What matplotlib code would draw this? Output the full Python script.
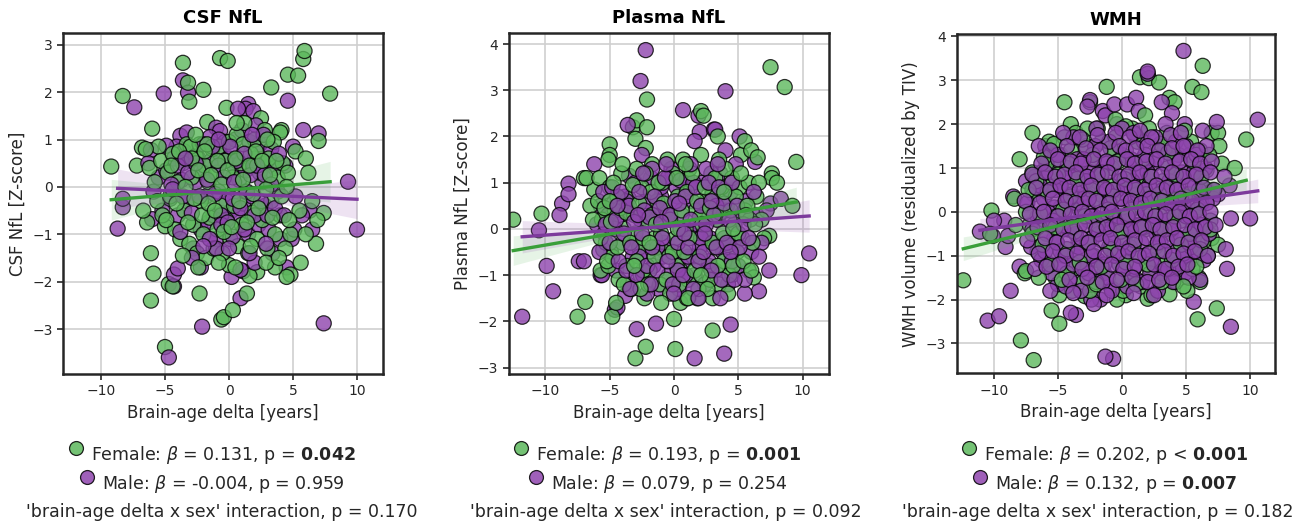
"""
plot.py
-------
Brain-age delta vs. CSF NfL, plasma NfL and WMH volume, split by sex.
"""

import numpy as np
import matplotlib
matplotlib.use("Agg")
import matplotlib.pyplot as plt
from matplotlib.lines import Line2D

# ---------------------------------------------------------------- data ----
titles = ["CSF NfL", "Plasma NfL", "WMH"]
ylabels = ["CSF NfL [Z-score]", "Plasma NfL [Z-score]",
           "WMH volume (residualized by TIV)"]
xlabel = "Brain-age delta [years]"
yticks = [[-3, -2, -1, 0, 1, 2, 3], [-3, -2, -1, 0, 1, 2, 3, 4],
          [-3, -2, -1, 0, 1, 2, 3, 4]]
xticks = [-10, -5, 0, 5, 10]

csf_female = [
    (-9.2, 0.43), (-8.3, 1.92), (-7.2, 0.45), (-6.8, 0.83), (-6.0, 1.23),
    (-6.1, -1.4), (-5.9, -1.83), (-6.1, -2.4), (-5.0, -3.38), (-4.7, -2.05),
    (-4.4, -2.1), (-3.6, 2.62), (-3.2, 2.2), (-3.1, 1.8), (-2.0, 2.05),
    (-2.3, -2.25), (-1.7, 1.37), (-0.7, 2.72), (-0.1, 2.66), (-0.2, 1.67),
    (-0.6, -2.8), (-0.4, -2.75), (0.3, -2.6), (1.4, -2.25), (3.3, 2.1),
    (4.6, 2.37), (5.4, 2.35), (5.8, 2.7), (5.9, 2.87), (7.9, 1.97),
    (7.0, 0.97), (7.4, -0.55), (6.9, -0.7), (6.8, -1.2), (4.8, -1.85),
    (4.5, -1.9), (3.6, -1.7), (2.2, -1.8), (1.6, -1.88), (0.0, -1.65),
    (4.1, 1.2), (4.0, 1.15), (2.5, 1.45), (-5.0, -0.83), (-6.4, -0.75),
    (-6.7, -0.5), (-5.5, 0.85),
    (-6.5, 0.8), (-6.2, 0.4), (-5.8, 0.1), (-5.6, -0.3), (-5.3, 0.55),
    (-5.2, -0.6), (-4.8, 0.3), (-4.6, -0.2), (-4.4, 0.7), (-4.2, -0.9),
    (-4.0, 0.1), (-3.8, -1.1), (-3.6, 0.5), (-3.5, -0.5), (-3.3, 0.9),
    (-3.1, -1.2), (-2.9, 0.2), (-2.8, -0.8), (-2.6, 0.65), (-2.5, -1.4),
    (-2.3, 0.9), (-2.2, -0.3), (-2.0, -1.0), (-1.9, 0.45), (-1.8, -1.5),
    (-1.6, 0.1), (-1.5, -0.65), (-1.3, 0.8), (-1.2, -1.3), (-1.0, 0.3),
    (-0.9, -0.9), (-0.8, 0.85), (-0.6, -0.4), (-0.5, -1.4), (-0.3, 0.55),
    (-0.2, -0.7), (0.0, 0.95), (0.1, -1.1), (0.3, 0.2), (0.4, -0.4),
    (0.6, 1.1), (0.7, -1.25), (0.9, 0.5), (1.0, -0.8), (1.2, 1.35),
    (1.3, -0.1), (1.5, -1.4), (1.7, 0.7), (1.8, -0.55), (2.0, 1.0),
    (2.2, -1.1), (2.4, 0.3), (2.6, -0.7), (2.8, 1.2), (3.0, -1.3),
    (3.1, 0.6), (3.3, -0.3), (3.5, 0.95), (3.6, -1.0), (3.8, 0.2),
    (4.0, -0.6), (4.2, 0.5), (4.4, -1.3), (4.6, 0.3), (4.8, -1.0),
    (5.2, 0.75), (5.5, -0.5), (6.0, 0.6), (6.2, 0.3), (6.5, -0.3),
    (5.6, -1.6), (2.9, -1.6), (-3.0, 0.85), (-1.7, 0.9), (1.1, 0.9),
    (-4.9, -0.7), (-2.4, -1.7), (0.5, -1.7), (3.9, -1.5), (6.0, -1.0),
    (-4.5, 0.45), (-4.1, -0.35), (-3.9, 0.75), (-3.4, 0.0), (-3.2, -0.75),
    (-2.9, 0.6), (-2.7, -0.25), (-2.4, 0.35), (-2.1, -0.6), (-1.9, 0.75),
    (-1.6, -0.35), (-1.4, 0.25), (-1.1, -0.5), (-0.9, 0.55), (-0.6, 0.05),
    (-0.4, -0.95), (-0.1, 0.35), (0.2, -0.85), (0.5, 0.6), (0.8, -0.3),
    (1.1, 0.15), (1.4, -0.75), (1.6, 0.45), (1.9, -0.15), (2.1, 0.75),
    (2.3, -0.45), (2.6, 0.55), (2.9, -0.05), (3.2, 0.25), (3.4, -0.65),
    (3.7, 0.55), (4.1, -0.2), (4.5, 0.0), (-0.8, -1.6), (1.7, -1.25),
    (-3.6, -1.45), (0.6, 1.35), (-2.6, 1.1), (3.0, 1.0), (4.7, -0.7),
]
csf_male = [
    (-7.4, 1.68), (-5.1, 1.97), (-3.6, 2.25), (-3.2, 1.99), (-8.7, -0.88),
    (-8.3, -0.43), (-8.3, -0.25), (-6.0, -0.68), (-4.7, -3.6), (-4.3, -2.1),
    (-4.3, -1.85), (-4.0, -1.72), (-2.2, -1.7), (-2.1, -2.95), (0.2, -1.9),
    (0.9, -2.35), (1.1, -1.78), (4.6, 1.82), (5.8, 1.2), (7.0, 1.13),
    (9.3, 0.11), (10.0, -0.9), (7.4, -2.88), (5.0, 0.85), (4.4, 0.45),
    (6.5, -0.9), (6.3, -0.5), (5.7, -0.6), (4.5, -1.7), (4.9, -1.1),
    (5.1, -0.9), (5.2, -0.2), (1.5, 1.75), (1.3, 1.65), (0.7, 1.65),
    (1.9, 1.6), (-1.0, 1.25), (-3.8, 1.08), (-3.3, 1.15), (-0.7, 1.18),
    (-4.1, 0.85), (-4.9, 0.87), (-6.1, 0.78),
    (-6.3, 0.5), (-5.9, -0.1), (-5.5, 0.2), (-5.2, -0.5), (-4.9, 0.35),
    (-4.6, -0.25), (-4.3, 0.6), (-4.0, -0.6), (-3.7, 0.15), (-3.5, 0.75),
    (-3.3, -0.3), (-3.0, 0.55), (-2.8, -1.3), (-2.6, 0.1), (-2.4, 0.6),
    (-2.2, -0.9), (-2.0, 0.3), (-1.8, -0.2), (-1.6, -0.75), (-1.4, 0.55),
    (-1.2, -0.6), (-1.0, -1.1), (-0.8, -0.1), (-0.7, 0.7), (-0.5, -0.55),
    (-0.3, 0.95), (-0.2, -0.3), (0.0, 0.6), (0.2, -0.5), (0.4, 0.45),
    (0.5, 1.0), (0.7, -0.6), (0.8, 0.15), (1.0, 1.2), (1.1, -0.35),
    (1.3, 0.35), (1.5, -1.0), (1.6, 0.95), (1.8, -0.2), (2.0, 0.6),
    (2.1, 1.3), (2.3, -0.8), (2.4, 0.9), (2.6, 0.1), (2.8, -0.4),
    (2.9, 0.5), (3.1, -0.9), (3.3, 0.8), (3.4, -1.4), (3.6, 0.4),
    (3.8, -0.1), (4.0, -1.1), (-1.0, -1.3), (0.3, -1.05), (2.0, -1.6),
    (-3.8, -0.95), (-2.9, -1.5), (1.9, 0.45), (-0.6, -0.6), (1.2, -0.9),
    (2.7, 1.1), (-4.5, 0.05), (-1.5, 1.05), (0.9, -1.75),
    (-4.4, -0.05), (-4.0, 0.45), (-3.6, -0.2), (-3.2, 0.3), (-2.9, -0.55),
    (-2.6, 0.5), (-2.3, -0.2), (-2.0, 0.9), (-1.7, 0.15), (-1.5, -1.1),
    (-1.3, 0.85), (-1.1, -0.15), (-0.8, 0.45), (-0.6, -0.8), (-0.4, 0.2),
    (-0.1, -0.75), (0.1, 0.85), (0.3, -0.25), (0.6, 0.55), (0.9, -0.45),
    (1.2, 0.7), (1.4, -0.1), (1.7, 0.25), (2.0, -0.6), (2.2, 0.45),
    (2.5, -0.3), (2.8, 0.25), (3.0, -0.6), (3.3, 0.05), (3.6, -0.45),
    (3.9, 0.7), (4.3, -0.6), (-2.0, -1.25), (0.0, -1.3), (1.6, -1.4),
    (2.9, -1.2), (-0.8, 1.0), (1.8, 1.1), (-3.4, 0.6), (0.4, 0.1),
]

plasma_female = [
    (-12.5, 0.2), (-10.3, 0.33), (-7.5, -1.9), (-6.9, -1.58), (-7.0, 1.1),
    (-5.0, 1.83), (-5.0, 1.6), (-5.1, 1.5), (-3.2, 2.2), (-2.9, 2.35),
    (-2.1, 2.8), (-2.1, 2.2), (-3.0, 1.95), (-2.2, 1.75), (-3.0, -2.8),
    (-2.2, -2.55), (-2.6, -1.0), (0.0, -1.95), (0.1, -2.6), (0.5, -1.6),
    (1.8, -1.5), (3.0, -1.5), (3.0, -2.2), (2.1, 2.55), (2.3, 2.45),
    (3.4, 2.0), (5.2, 1.6), (5.5, 1.9), (6.0, 1.7), (6.5, 1.55),
    (7.5, 3.5), (8.6, 3.07), (9.5, 1.45), (7.6, 1.2), (7.6, 1.1),
    (8.0, 1.0), (9.2, 0.5), (7.4, -0.15), (7.0, -0.2), (5.8, -0.9),
    (6.2, -1.05), (4.5, -1.0), (1.0, -1.5), (-4.8, -1.9), (-4.5, -1.6),
    (-5.7, -0.9), (-6.2, 0.85), (-6.8, 1.1), (-6.5, 0.5), (-5.8, 1.1),
    (-5.5, -0.45), (-5.1, -0.8),
    (-5.9, 0.6), (-5.6, 0.2), (-5.3, -0.3), (-5.0, 0.9), (-4.8, -0.6),
    (-4.6, 0.4), (-4.3, -1.1), (-4.1, 1.2), (-3.9, 0.0), (-3.7, -0.8),
    (-3.5, 0.65), (-3.3, -1.3), (-3.1, 0.3), (-2.9, 1.3), (-2.7, -0.4),
    (-2.5, 0.9), (-2.3, -1.5), (-2.1, 0.2), (-1.9, -0.9), (-1.7, 1.4),
    (-1.5, -0.2), (-1.3, 0.6), (-1.1, -1.2), (-0.9, 1.0), (-0.7, -0.5),
    (-0.5, 0.3), (-0.3, -1.4), (-0.1, 1.2), (0.1, -0.2), (0.3, 0.7),
    (0.5, -0.9), (0.7, 1.5), (0.9, 0.0), (1.1, -1.1), (1.3, 0.9),
    (1.5, -0.6), (1.7, 0.4), (1.9, -1.3), (2.1, 1.6), (2.3, -0.1),
    (2.5, 0.6), (2.7, -0.8), (2.9, 1.2), (3.1, -0.4), (3.3, 0.2),
    (3.5, -1.2), (3.7, 0.9), (3.9, -0.7), (4.1, 0.5), (4.3, -1.0),
    (4.5, 1.1), (4.7, 0.1), (4.9, -0.5), (5.1, 0.9), (5.3, -0.2),
    (5.5, 0.4), (5.8, 1.0), (6.1, -0.3), (6.4, 0.7), (6.8, 0.2),
    (2.8, -1.1), (0.2, -0.8), (-1.8, 0.8), (-3.0, -0.1), (1.2, 1.3),
    (3.0, 0.75), (-0.4, -0.6), (4.2, -0.35), (-4.4, 0.7), (-2.4, -0.9),
    (2.0, 0.25), (-1.0, -1.6), (5.9, 0.2), (-6.3, 0.2),
    (-5.7, -0.2), (-5.4, 0.45), (-5.2, -0.7), (-4.9, 0.15), (-4.7, 1.0),
    (-4.4, -0.4), (-4.2, 0.45), (-3.9, -1.2), (-3.7, 0.35), (-3.4, -0.3),
    (-3.2, 0.95), (-2.9, -0.7), (-2.7, 0.55), (-2.4, -0.2), (-2.2, 1.2),
    (-2.0, -1.2), (-1.7, 0.3), (-1.5, -0.6), (-1.2, 1.0), (-1.0, -0.1),
    (-0.8, 0.55), (-0.6, -1.1), (-0.3, 0.2), (-0.1, -0.5), (0.2, 1.1),
    (0.4, -1.2), (0.6, 0.4), (0.8, -0.5), (1.0, 0.8), (1.2, -0.2),
    (1.4, 1.2), (1.6, -0.9), (1.8, 0.6), (2.0, -0.6), (2.2, 0.1),
    (2.4, 0.9), (2.6, -1.3), (2.8, 0.45), (3.0, -0.3), (3.2, 1.1),
    (3.4, -0.8), (3.6, 0.35), (3.8, -0.1), (4.0, 1.3), (4.2, -1.4),
    (4.4, 0.4), (4.6, -0.8), (4.8, 0.7), (5.0, -0.1), (5.2, 1.2),
    (5.4, -0.7), (5.7, 0.5), (6.0, -0.9), (6.3, 0.1), (6.6, 1.0),
    (-0.5, 1.5), (1.1, -1.5), (-2.6, -1.3), (3.5, 1.5), (-4.0, 1.4),
    (0.3, 0.0), (-1.4, 0.1), (2.1, -1.0), (3.9, 0.8), (-3.1, -0.8),
    (0.9, 1.4), (-1.9, -0.3), (4.6, 0.0), (5.6, 0.3), (-5.0, 0.6),
]
plasma_male = [
    (-11.8, -1.9), (-9.4, -1.35), (-9.9, -0.8), (-10.5, -0.03), (-8.7, 0.55),
    (-8.2, 0.98), (-8.2, 0.75), (-8.9, 0.3), (-7.4, -0.7), (-7.0, -0.7),
    (-6.2, 1.4), (-2.2, 3.87), (-2.6, 3.2), (4.0, 2.98), (0.7, 2.57),
    (1.9, 2.45), (2.0, 2.1), (3.1, 2.15), (3.2, 2.15), (5.1, 2.0),
    (4.0, 1.7), (6.3, 1.45), (7.5, 0.55), (8.3, 0.65), (10.5, -0.53),
    (9.9, -1.0), (7.4, -0.9), (6.6, -1.35), (5.5, -1.4), (4.4, -2.07),
    (3.9, -2.7), (1.6, -2.8), (-1.4, -2.05), (-2.9, -2.17), (-4.6, -1.75),
    (-4.4, -1.7), (-3.8, -1.45), (-5.7, -1.0), (-5.6, -1.0), (-2.5, 1.6),
    (-3.6, 2.25), (-3.5, 1.15), (-1.0, 0.7), (1.6, 1.9),
    (-6.0, 0.1), (-5.7, 0.5), (-5.4, -0.1), (-5.1, 0.3), (-4.9, -0.5),
    (-4.7, 0.55), (-4.5, -0.9), (-4.2, 0.3), (-4.0, -0.3), (-3.8, 0.7),
    (-3.6, -1.2), (-3.4, 0.35), (-3.2, -0.6), (-3.0, 1.0), (-2.8, -0.3),
    (-2.6, 0.2), (-2.4, -1.0), (-2.2, 0.6), (-2.0, -0.5), (-1.8, 1.1),
    (-1.6, -0.8), (-1.4, 0.3), (-1.2, -1.3), (-1.0, 0.9), (-0.8, -0.3),
    (-0.6, 0.4), (-0.4, -1.0), (-0.2, 1.3), (0.0, -0.5), (0.2, 0.9),
    (0.4, -1.3), (0.6, 0.3), (0.8, -0.7), (1.0, 1.1), (1.2, -0.1),
    (1.4, 0.6), (1.6, -1.0), (1.8, 0.1), (2.0, -0.4), (2.2, 1.0),
    (2.4, -1.2), (2.6, 0.4), (2.8, -0.2), (3.0, 0.8), (3.2, -0.9),
    (3.4, 0.2), (3.6, 1.2), (3.8, -0.5), (4.0, 0.4), (4.2, -1.2),
    (4.4, 0.8), (4.6, -0.3), (4.8, 1.4), (5.0, -0.8), (5.2, 0.3),
    (5.6, 0.6), (6.0, -0.5), (6.4, 0.3), (6.8, -0.3), (7.2, 0.4),
    (-1.7, 1.3), (-0.5, 1.1), (0.5, 1.05), (1.5, 1.0), (2.5, 1.3),
    (-2.7, -0.6), (-0.9, -0.6), (0.9, -1.0), (2.7, -0.7), (3.9, -0.2),
    (-3.7, 0.6), (-1.3, -0.4), (1.1, -0.6), (3.3, 0.5), (-4.6, 0.0),
    (4.5, -0.7), (-2.1, -1.4), (0.3, -0.9), (2.1, -0.2), (5.5, -1.1),
    (-5.8, -0.5), (-5.5, 0.8), (-5.3, 0.1), (-5.0, -0.3), (-4.8, 0.9),
    (-4.5, 0.2), (-4.3, -0.7), (-4.1, 0.8), (-3.9, -0.1), (-3.7, -0.9),
    (-3.5, 0.5), (-3.3, -0.4), (-3.1, 0.15), (-2.9, -1.0), (-2.7, 0.8),
    (-2.5, -0.1), (-2.3, 0.4), (-2.1, -0.8), (-1.9, 0.25), (-1.7, -0.4),
    (-1.5, 0.7), (-1.3, -0.9), (-1.1, 0.45), (-0.9, -0.2), (-0.7, 1.1),
    (-0.5, -0.7), (-0.3, 0.3), (-0.1, -1.2), (0.1, 0.6), (0.3, -0.3),
    (0.5, 0.0), (0.7, -1.0), (0.9, 0.7), (1.1, -0.4), (1.3, 0.2),
    (1.5, -1.3), (1.7, 0.9), (1.9, -0.7), (2.1, 0.5), (2.3, -0.5),
    (2.5, 0.1), (2.7, 1.0), (2.9, -0.9), (3.1, 0.3), (3.3, -0.4),
    (3.5, 0.9), (3.7, -1.1), (3.9, 0.55), (4.1, -0.3), (4.3, 0.2),
    (4.5, 1.0), (4.7, -1.1), (4.9, 0.5), (5.1, -0.4), (5.4, 0.1),
    (5.8, -0.2), (6.2, 0.8), (6.6, -0.6), (-1.8, -1.2), (0.0, -1.4),
    (1.9, -1.5), (3.6, -1.5), (-3.4, -1.3), (-0.6, 1.4), (1.3, 1.4),
    (3.4, 1.4), (-2.4, 1.2), (0.4, 0.55), (2.4, -0.1), (-1.0, 0.15),
    (4.4, -0.5), (-4.4, 0.5), (-2.8, 0.3), (0.8, -0.1), (2.9, 0.6),
]

wmh_female = [
    (-12.4, -1.56), (-10.2, 0.03), (-8.0, 1.2), (-7.0, 1.8), (-7.9, -2.93),
    (-6.9, -3.38), (-5.5, -2.25), (-4.9, -2.55), (-4.5, 2.5), (-4.0, 2.0),
    (-3.6, 1.8), (-2.5, 2.5), (-1.2, 2.85), (1.4, 3.07), (2.1, 3.05),
    (2.9, 2.95), (3.7, 2.6), (4.1, 2.5), (5.5, 2.85), (6.3, 3.33),
    (6.2, 2.73), (7.0, 1.8), (7.5, 1.8), (9.7, 1.65), (7.6, 1.5),
    (7.8, 1.1), (8.8, 1.0), (6.6, 0.95), (7.0, -0.6), (7.5, -0.75),
    (5.6, -0.6), (6.0, -1.5), (6.1, -1.6), (5.9, -2.45), (7.4, -2.2),
    (3.7, -1.88), (2.0, -1.98), (0.3, -1.9), (-0.4, -2.0), (-2.9, -1.92),
    (-4.9, -1.9), (-5.2, -1.5), (-7.6, -1.4), (-7.5, -1.35), (-5.7, 1.6),
    (-5.2, 1.3), (-8.3, -0.3), (-8.4, 0.3), (-10.3, -0.5), (1.8, 2.2),
    (-0.5, 2.1), (-2.8, 1.5), (0.8, 1.9),
    (-7.2, -0.3), (-6.9, 0.4), (-6.6, -0.9), (-6.3, 0.9), (-6.0, -0.2),
    (-5.8, -1.2), (-5.5, 0.6), (-5.3, -0.6), (-5.0, 1.0), (-4.8, 0.1),
    (-4.6, -1.0), (-4.4, 0.5), (-4.2, -0.4), (-4.0, 1.4), (-3.8, -1.3),
    (-3.6, 0.2), (-3.4, -0.7), (-3.2, 0.9), (-3.0, -1.6), (-2.8, 0.4),
    (-2.6, -0.2), (-2.4, 1.2), (-2.2, -1.0), (-2.0, 0.7), (-1.8, -0.5),
    (-1.6, 1.6), (-1.4, -1.4), (-1.2, 0.2), (-1.0, -0.8), (-0.8, 1.0),
    (-0.6, -0.3), (-0.4, 0.5), (-0.2, -1.2), (0.0, 1.3), (0.2, -0.6),
    (0.4, 0.8), (0.6, -1.5), (0.8, 0.3), (1.0, -0.3), (1.2, 1.6),
    (1.4, -1.0), (1.6, 0.6), (1.8, -0.4), (2.0, 1.1), (2.2, -1.3),
    (2.4, 0.2), (2.6, -0.8), (2.8, 1.5), (3.0, -0.1), (3.2, 0.7),
    (3.4, -1.2), (3.6, 1.0), (3.8, -0.5), (4.0, 0.3), (4.2, -1.6),
    (4.4, 1.3), (4.6, -0.2), (4.8, 0.8), (5.0, -0.9), (5.2, 0.4),
    (5.4, 1.6), (5.6, -0.3), (5.8, 0.9), (6.0, 0.1), (6.3, -0.7),
    (6.6, 0.5), (6.9, -0.2), (-5.9, 1.1), (-3.9, -1.8), (-1.9, 1.9),
    (0.1, -1.8), (2.1, 1.9), (4.1, -1.3), (6.1, 1.4), (-6.5, -1.5),
    (-4.5, 1.7), (-2.5, -1.8), (-0.5, 1.7), (1.5, -1.7), (3.5, 1.8),
    (5.5, -1.3), (-7.0, 0.9), (-3.3, 0.05), (-1.3, -0.15), (0.7, 0.05),
    (2.7, -0.35), (4.7, 0.0), (-5.1, -0.1), (-2.1, 0.3), (1.9, 0.4),
    (3.9, 0.6), (-0.9, 0.6), (-4.3, -1.4), (2.3, -1.9), (6.7, -1.0),
    (-7.5, 0.0), (5.1, -1.8), (0.3, 1.95), (-2.7, 1.9),
    (-5.3, 1.55), (-3.1, 1.65), (-0.9, 1.45), (1.0, 1.75), (3.0, 1.55),
    (4.9, 1.85), (-6.1, 1.25), (-4.2, 1.1), (-2.3, 1.3), (-0.3, 1.15),
    (1.6, 1.2), (3.6, 1.35), (5.6, 1.15), (6.8, 1.3), (-6.7, 0.7),
    (-5.0, 0.85), (-3.5, 0.75), (-1.6, 0.85), (0.2, 0.75), (2.2, 0.8),
    (4.2, 0.85), (6.2, 0.8), (-7.3, 0.5), (-5.8, 0.45), (-4.0, 0.35),
    (-2.4, 0.5), (-0.7, 0.35), (1.1, 0.5), (2.9, 0.4), (4.9, 0.35),
    (7.1, 0.5), (-6.4, -0.05), (-4.6, 0.05), (-2.9, -0.1), (-1.1, 0.05),
    (0.5, -0.05), (2.3, 0.0), (4.1, -0.1), (5.9, 0.05), (-7.0, -0.5),
    (-5.2, -0.35), (-3.7, -0.45), (-1.9, -0.3), (-0.1, -0.45), (1.7, -0.35),
    (3.3, -0.4), (5.3, -0.5), (6.9, -0.4), (-6.2, -0.75), (-4.3, -0.85),
    (-2.7, -0.7), (-0.9, -0.85), (0.9, -0.75), (2.8, -0.9), (4.6, -0.75),
    (6.1, -0.85), (-5.6, -1.2), (-3.3, -1.15), (-1.6, -1.25), (0.3, -1.15),
    (2.0, -1.2), (3.9, -1.1), (5.8, -1.25), (-4.7, -1.55), (-2.0, -1.65),
    (-0.1, -1.55), (1.1, -1.65), (3.1, -1.6), (4.8, -1.7),
]
wmh_male = [
    (-11.1, -0.45), (-10.5, -2.48), (-9.6, -2.38), (-8.7, -1.8), (-9.1, -0.8),
    (-8.9, -0.55), (-8.5, 0.35), (-9.2, -0.2), (-10.0, -0.2), (-10.1, -0.55),
    (-8.0, -1.25), (-7.5, 0.7), (-7.0, 0.5), (-6.2, 0.5), (-6.0, 1.5),
    (-5.9, 1.2), (-4.8, 1.3), (-3.6, -2.35), (-4.0, -2.3), (-2.5, 2.55),
    (-2.7, 2.4), (-1.5, 2.3), (-1.3, 2.2), (-0.4, 2.0), (-0.6, 2.45),
    (0.4, 2.45), (1.1, 2.6), (1.3, 2.3), (2.0, 3.15), (2.0, 3.2),
    (3.1, 2.5), (3.9, 2.25), (4.8, 3.67), (4.9, 2.0), (6.3, 1.85),
    (7.4, 2.05), (10.6, 2.1), (10.0, -0.15), (8.5, -0.15), (8.1, -0.85),
    (8.2, -1.3), (8.5, -2.62), (5.6, -2.05), (6.1, -1.55), (4.9, -1.4),
    (5.4, -1.1), (3.3, -1.45), (1.0, -1.5), (-0.7, -3.35), (-1.3, -3.3),
    (-1.7, -2.0), (-2.4, -2.0), (-2.2, -2.1), (-0.8, -1.75), (-5.0, -1.65),
    (-3.5, -1.55), (8.4, 0.6), (8.0, 0.8), (7.5, 0.4),
    (-7.4, 0.2), (-7.1, -0.8), (-6.8, 0.8), (-6.6, -0.1), (-6.3, -1.1),
    (-6.1, 0.3), (-5.9, -0.5), (-5.7, 0.9), (-5.5, -1.4), (-5.3, 0.1),
    (-5.1, -0.7), (-4.9, 0.6), (-4.7, -1.2), (-4.5, 0.0), (-4.3, 1.0),
    (-4.1, -0.4), (-3.9, 0.4), (-3.7, -1.0), (-3.5, 1.2), (-3.3, -0.3),
    (-3.1, 0.6), (-2.9, -1.3), (-2.7, 0.1), (-2.5, 0.9), (-2.3, -0.6),
    (-2.1, 1.5), (-1.9, -1.1), (-1.7, 0.4), (-1.5, -0.2), (-1.3, 1.1),
    (-1.1, -1.5), (-0.9, 0.2), (-0.7, -0.7), (-0.5, 1.4), (-0.3, -0.1),
    (-0.1, 0.7), (0.1, -1.0), (0.3, 0.4), (0.5, -0.4), (0.7, 1.2),
    (0.9, -1.3), (1.1, 0.1), (1.3, 0.9), (1.5, -0.7), (1.7, 1.6),
    (1.9, -0.2), (2.1, 0.6), (2.3, -1.1), (2.5, 1.1), (2.7, -0.5),
    (2.9, 0.3), (3.1, -1.4), (3.3, 1.4), (3.5, -0.2), (3.7, 0.7),
    (3.9, -0.9), (4.1, 1.2), (4.3, 0.0), (4.5, -0.6), (4.7, 0.9),
    (4.9, -1.0), (5.1, 0.4), (5.3, 1.3), (5.5, -0.4), (5.7, 0.6),
    (5.9, -0.9), (6.2, 0.2), (6.5, 1.0), (6.8, -0.5), (7.1, 0.3),
    (-7.0, -0.4), (-6.4, 0.6), (-5.8, 0.0), (-5.2, 0.5), (-4.6, -0.3),
    (-4.0, 0.8), (-3.4, -0.8), (-2.8, 0.7), (-2.2, -0.1), (-1.6, 0.9),
    (-1.0, -0.4), (-0.4, 0.5), (0.2, -0.2), (0.8, 0.7), (1.4, -0.3),
    (2.0, 0.9), (2.6, -0.1), (3.2, 0.5), (3.8, -0.4), (4.4, 0.6),
    (5.0, -0.1), (5.6, 0.9), (6.2, -0.3),
    (-6.0, -0.9), (-5.4, -0.2), (-4.8, -0.9), (-4.2, 0.3), (-3.6, -0.5),
    (-3.0, 0.3), (-2.4, -1.0), (-1.8, -0.5), (-1.2, 0.5), (-0.6, -1.0),
    (0.0, 0.1), (0.6, -0.8), (1.2, 0.4), (1.8, -1.0), (2.4, 0.3),
    (3.0, -0.7), (3.6, 0.2), (4.2, -1.2), (4.8, 0.2), (5.4, -0.8),
    (6.0, 0.5),
    (-6.5, 1.5), (-5.0, 1.3), (-3.8, 1.7), (-3.0, 1.2), (-2.0, 1.9),
    (-1.0, 1.6), (0.0, 1.9), (0.9, 1.8), (1.8, 1.3), (2.6, 1.7),
    (3.4, 2.0), (4.2, 1.6), (5.0, 1.5), (5.8, 1.3), (6.6, 1.5),
    (-6.8, -1.3), (-5.6, -1.8), (-4.4, -1.7), (-3.2, -1.8), (-2.0, -1.6),
    (-0.8, -1.8), (0.4, -1.7), (1.6, -1.6), (2.8, -1.8), (4.0, -1.6),
    (5.2, -1.5), (6.4, -1.1), (-1.4, -1.2), (0.2, -1.3), (2.2, -1.4),
    (3.6, -1.3), (-3.8, -1.2), (-2.6, -1.4),
    (-4.6, 1.8), (-3.3, 1.7), (-1.9, 1.75), (-0.5, 1.8), (0.6, 1.7),
    (1.4, 1.85), (2.3, 1.7), (3.8, 1.75), (4.6, 1.8),
    (-5.6, 1.4), (-4.3, 1.5), (-2.8, 1.45), (-1.7, 1.4), (-0.2, 1.5),
    (0.3, 1.4), (1.1, 1.45), (2.0, 1.5), (2.9, 1.4), (3.9, 1.45),
    (4.8, 1.5), (5.9, 1.4),
    (-6.3, 1.1), (-5.0, 1.2), (-4.0, 1.15), (-3.2, 1.1), (-2.2, 1.2),
    (-1.2, 1.15), (-0.6, 1.1), (0.4, 1.2), (1.0, 1.1), (1.9, 1.15),
    (2.7, 1.2), (3.4, 1.1), (4.5, 1.15), (5.4, 1.2), (6.1, 1.1),
    (7.0, 1.15),
    (-7.0, 0.85), (-6.0, 0.9), (-5.2, 0.8), (-4.5, 0.85), (-3.6, 0.9),
    (-2.7, 0.8), (-1.9, 0.85), (-1.1, 0.9), (-0.2, 0.8), (0.5, 0.85),
    (1.4, 0.9), (2.3, 0.8), (3.1, 0.85), (3.9, 0.9), (4.8, 0.8),
    (5.8, 0.85), (6.9, 0.9),
    (-6.7, 0.55), (-5.6, 0.5), (-4.8, 0.6), (-4.1, 0.55), (-3.3, 0.5),
    (-2.4, 0.6), (-1.4, 0.55), (-0.7, 0.5), (0.2, 0.6), (1.0, 0.55),
    (1.8, 0.5), (2.7, 0.6), (3.5, 0.55), (4.3, 0.5), (5.2, 0.6),
    (6.4, 0.55), (7.2, 0.5),
    (-7.6, 0.25), (-6.4, 0.2), (-5.4, 0.3), (-4.4, 0.25), (-3.6, 0.2),
    (-2.6, 0.3), (-2.0, 0.25), (-1.0, 0.2), (-0.1, 0.3), (0.7, 0.25),
    (1.5, 0.2), (2.2, 0.3), (3.1, 0.25), (3.9, 0.2), (4.6, 0.3),
    (5.5, 0.25), (6.6, 0.2),
    (-7.2, -0.05), (-6.1, 0.0), (-5.0, -0.1), (-4.0, -0.05), (-3.1, 0.0),
    (-2.4, -0.1), (-1.6, -0.05), (-0.8, 0.0), (0.4, -0.1), (1.1, -0.05),
    (1.8, 0.0), (2.6, -0.1), (3.4, -0.05), (4.5, 0.0), (5.3, -0.1),
    (6.0, -0.05), (6.9, 0.0),
    (-6.6, -0.35), (-5.6, -0.3), (-4.6, -0.4), (-3.9, -0.35), (-2.9, -0.3),
    (-2.0, -0.4), (-1.2, -0.35), (-0.4, -0.3), (0.7, -0.4), (1.5, -0.35),
    (2.4, -0.3), (3.0, -0.4), (4.0, -0.35), (4.9, -0.3), (5.7, -0.4),
    (6.5, -0.35), (7.3, -0.3),
    (-7.4, -0.65), (-6.0, -0.6), (-5.1, -0.7), (-4.2, -0.65), (-3.2, -0.6),
    (-2.6, -0.7), (-1.6, -0.65), (-0.9, -0.6), (0.0, -0.7), (1.0, -0.65),
    (1.9, -0.6), (2.8, -0.7), (3.5, -0.65), (4.3, -0.6), (5.2, -0.7),
    (6.2, -0.65),
    (-6.5, -0.95), (-5.4, -0.9), (-4.4, -1.0), (-3.5, -0.95), (-2.2, -0.9),
    (-1.3, -1.0), (-0.3, -0.95), (0.5, -0.9), (1.3, -1.0), (2.1, -0.95),
    (3.3, -0.9), (4.0, -1.0), (4.8, -0.95), (5.7, -0.9), (6.7, -1.0),
    (-5.9, -1.25), (-4.9, -1.2), (-3.1, -1.3), (-2.0, -1.25), (-0.8, -1.2),
    (0.1, -1.3), (1.0, -1.25), (2.5, -1.2), (3.4, -1.3), (4.4, -1.25),
    (5.1, -1.2),
    (-4.1, -1.55), (-2.7, -1.5), (-1.5, -1.6), (-0.4, -1.55), (0.8, -1.5),
    (2.0, -1.6), (2.9, -1.55), (3.9, -1.5),
    (-3.8, -1.85), (-1.2, -1.9), (0.9, -1.85), (2.5, -1.9),
]

# regression fits: (intercept, slope), CI half-width (centre, ends)
fit_female = [(-0.066, 0.0222), (0.128, 0.0478), (0.035, 0.0706)]
fit_male = [(-0.137, -0.0123), (0.068, 0.0202), (0.040, 0.0414)]
ci_female = [(0.10, 0.43), (0.08, 0.32), (0.06, 0.27)]
ci_male = [(0.10, 0.41), (0.08, 0.35), (0.05, 0.27)]

# summary statistics printed under each panel
female_beta = ["0.131", "0.193", "0.202"]
female_op = ["=", "=", "<"]
female_p = ["0.042", "0.001", "0.001"]
female_sig = [True, True, True]
male_beta = ["-0.004", "0.079", "0.132"]
male_p = ["0.959", "0.254", "0.007"]
male_sig = [False, False, True]
interaction_p = ["0.170", "0.092", "0.182"]

# ------------------------------------------------------------- styling ----
GREEN, GREEN_LINE = "#5cb85c", "#3a9f3a"
PURPLE, PURPLE_LINE = "#8e44ad", "#7d3a9c"
TEXT = "#262626"

plt.rcParams["font.family"] = ["DejaVu Sans"]
plt.rcParams["mathtext.fontset"] = "dejavusans"

rects = [
    [0.0483, 0.2903, 0.2454, 0.6471],
    [0.3901, 0.2903, 0.2454, 0.6471],
    [0.7337, 0.2917, 0.2441, 0.6433],
]
xlims = [(-12.97, 12.03), (-12.85, 12.02), (-12.91, 11.95)]
ylims = [(-3.95, 3.25), (-3.14, 4.24), (-3.68, 4.05)]
# horizontal centre (px) of the interaction line; panel 3 is nudged left
footer_centre_px = [222, 666, 1098]


def interleave(a, b):
    """Alternate two point lists so neither sex sits fully on top."""
    out_pts, out_col = [], []
    for i in range(max(len(a), len(b))):
        if i < len(a):
            out_pts.append(a[i]); out_col.append(GREEN)
        if i < len(b):
            out_pts.append(b[i]); out_col.append(PURPLE)
    return np.array(out_pts), out_col


def draw_fit(ax, pts, fit, ci, line_col, band_col):
    """Regression line over the data range with a hyperbolic CI band."""
    xs = np.array([p[0] for p in pts])
    x = np.linspace(xs.min(), xs.max(), 100)
    b0, b1 = fit
    y = b0 + b1 * x
    xm = 0.5 * (x.min() + x.max())
    half = 0.5 * (x.max() - x.min())
    h = np.sqrt(ci[0] ** 2 + (ci[1] ** 2 - ci[0] ** 2) * ((x - xm) / half) ** 2)
    ax.fill_between(x, y - h, y + h, color=band_col, alpha=0.15, lw=0, zorder=3)
    ax.plot(x, y, color=line_col, lw=2.4, zorder=4)


datasets = [(csf_female, csf_male), (plasma_female, plasma_male),
            (wmh_female, wmh_male)]

fig = plt.figure(figsize=(13.04, 5.27), dpi=100)
axes = []
for i, (fem, mal) in enumerate(datasets):
    ax = fig.add_axes(rects[i])
    axes.append(ax)
    pts, cols = interleave(fem, mal)
    ax.scatter(pts[:, 0], pts[:, 1], s=118, c=cols, alpha=0.8,
               edgecolors="black", linewidths=0.9, zorder=2)
    draw_fit(ax, fem, fit_female[i], ci_female[i], GREEN_LINE, GREEN)
    draw_fit(ax, mal, fit_male[i], ci_male[i], PURPLE_LINE, PURPLE)

    ax.set_xlim(*xlims[i]); ax.set_ylim(*ylims[i])
    ax.set_xticks(xticks); ax.set_yticks(yticks[i])
    ax.grid(True, color="#cfcfcf", lw=1.2, zorder=0)
    ax.set_axisbelow(True)
    for sp in ax.spines.values():
        sp.set_color(TEXT); sp.set_linewidth(1.8)
    ax.tick_params(axis="both", labelsize=10, colors=TEXT, length=4, width=1.2)
    ax.set_title(titles[i], fontsize=13, fontweight="bold", color="black", pad=7)
    ax.set_xlabel(xlabel, fontsize=12, color=TEXT, labelpad=4)
    ax.set_ylabel(ylabels[i], fontsize=12, color=TEXT, labelpad=4)

# ------------------------------------------------------ footer statistics -
W, H = 1304, 527
line_texts = []
for i, ax in enumerate(axes):
    cx = rects[i][0] + rects[i][2] / 2
    pf = rf"$\mathbf{{{female_p[i]}}}$" if female_sig[i] else female_p[i]
    pm = rf"$\mathbf{{{male_p[i]}}}$" if male_sig[i] else male_p[i]
    t1 = fig.text(cx, 1 - 455 / H,
                  rf"Female: $\beta$ = {female_beta[i]}, p {female_op[i]} {pf}",
                  ha="center", va="center", fontsize=12.5, color=TEXT)
    t2 = fig.text(cx, 1 - 484 / H,
                  rf"Male: $\beta$ = {male_beta[i]}, p = {pm}",
                  ha="center", va="center", fontsize=12.5, color=TEXT)
    fig.text(footer_centre_px[i] / W, 1 - 512 / H,
             f"'brain-age delta x sex' interaction, p = {interaction_p[i]}",
             ha="center", va="center", fontsize=12.5, color=TEXT)
    line_texts += [(t1, GREEN), (t2, PURPLE)]

# markers sit just left of each stat line, slightly raised
fig.canvas.draw()
renderer = fig.canvas.get_renderer()
for t, col in line_texts:
    bb = t.get_window_extent(renderer)
    mx = (bb.x0 - 15) / W
    my = (0.5 * (bb.y0 + bb.y1) + 7) / H
    fig.add_artist(Line2D([mx], [my], marker="o", markersize=10, color=col,
                          alpha=0.85, markeredgecolor="black",
                          markeredgewidth=0.9, linestyle="none"))

plt.savefig("out.png", dpi=100)
plt.close()
